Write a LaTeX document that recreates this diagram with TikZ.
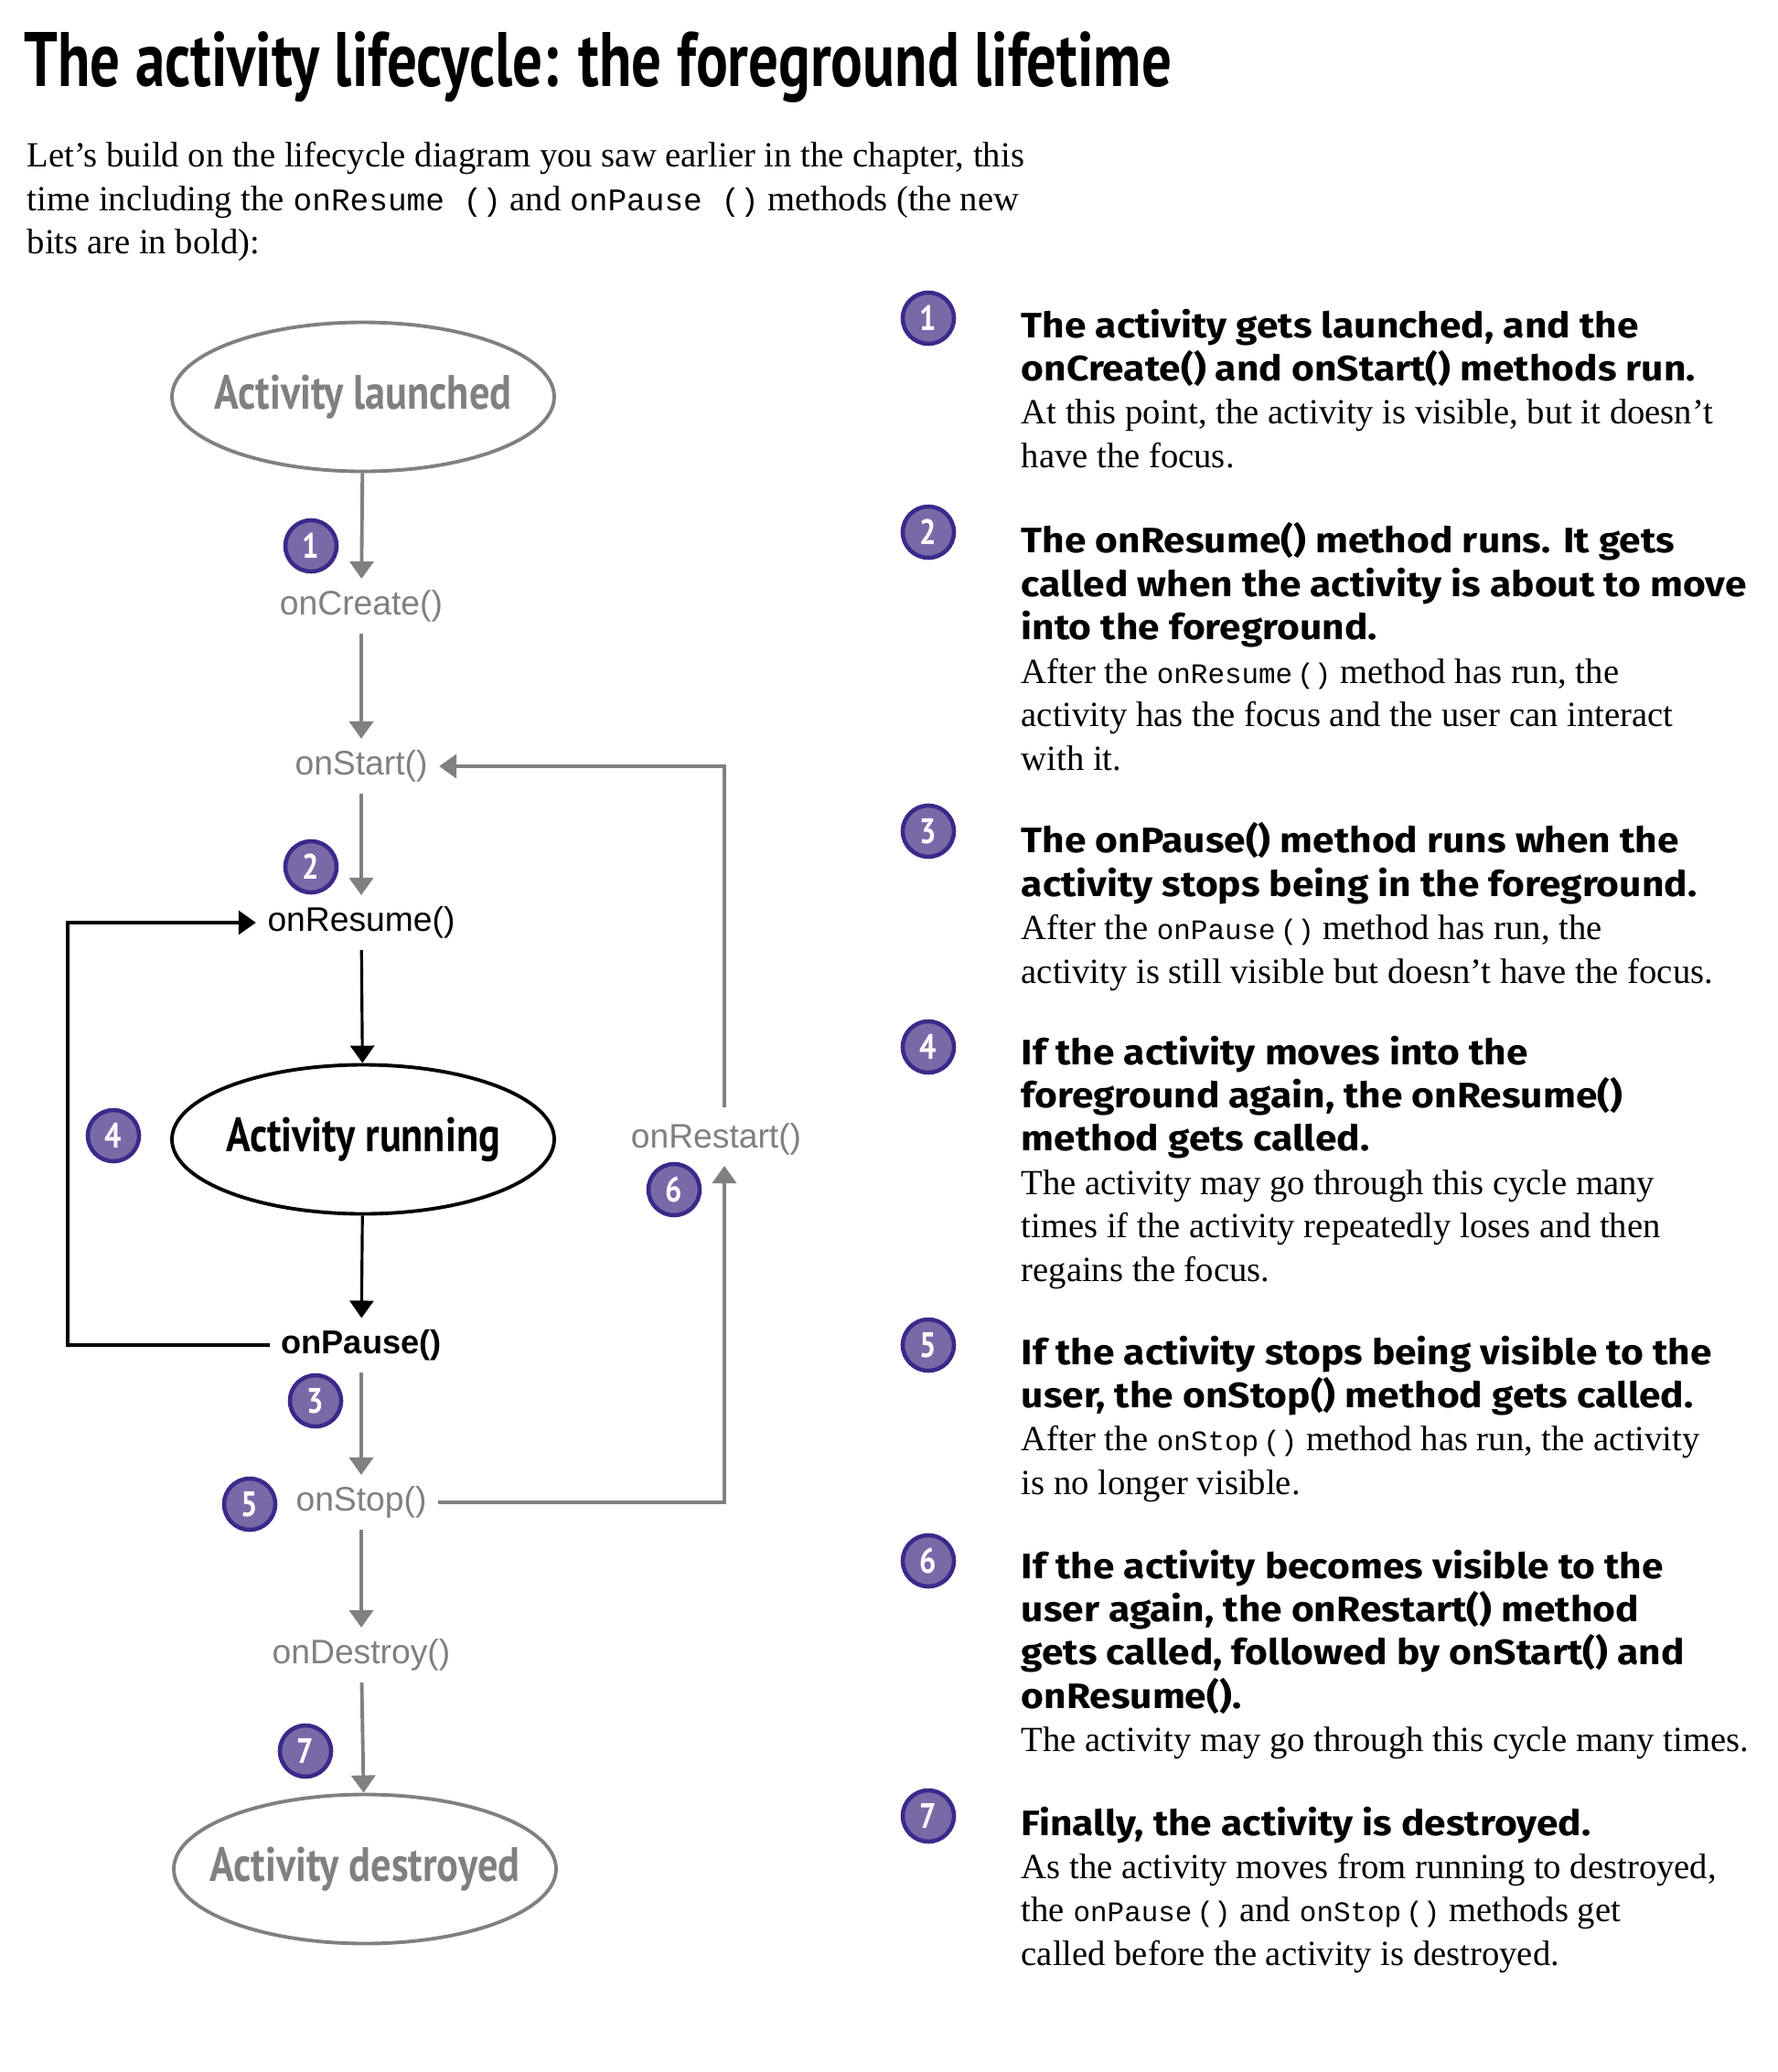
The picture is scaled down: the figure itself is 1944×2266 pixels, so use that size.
\documentclass[tikz,border=0pt]{standalone}
\usepackage{fontspec}
\usetikzlibrary{shapes.geometric,arrows.meta,positioning}
\setmainfont{Liberation Serif}
\setsansfont{Liberation Sans}
\setmonofont{Liberation Mono}
\newfontfamily\titlefont[FakeStretch=0.77]{PT Sans}
\newfontfamily\handfont[FakeStretch=0.84]{PT Sans}
\newfontfamily\headfont[FakeStretch=1.1]{Fira Sans}
\definecolor{lgray}{RGB}{128,128,128}
\definecolor{bfill}{RGB}{122,105,167}
\definecolor{bline}{RGB}{58,42,138}
\newcommand{\mcode}[1]{{\ttfamily\fontsize{8.8}{13.5}\selectfont #1}}
\newcommand{\mcodeb}[1]{{\ttfamily\fontsize{9.8}{13.5}\selectfont #1}}
\newcommand{\hd}{\headfont\bfseries\fontsize{11}{13.5}\selectfont}
\newcommand{\bd}{\rmfamily\mdseries\fontsize{11}{13.5}\selectfont}

\begin{document}
\begin{tikzpicture}[x=0.1mm,y=0.1mm]
		\tikzstyle{every node}+=[inner sep=0pt]
		\tikzstyle{state}=[ellipse, draw=lgray, line width=1.1pt, minimum width=4.18cm, minimum height=1.63cm, font=\handfont\bfseries\fontsize{15}{15}\selectfont, text=lgray]
		\tikzstyle{method}=[font=\sffamily\fontsize{10.6}{12}\selectfont, text=lgray, inner sep=1.2mm]
		\tikzstyle{badge}=[circle, fill=bfill, draw=bline, line width=1.3pt, minimum size=0.56cm, text=white, font=\handfont\bfseries\fontsize{11}{11}\selectfont]
		\tikzstyle{garrow}=[lgray, line width=1.1pt, -{Triangle[width=2.6mm,length=1.9mm]}]
		\tikzstyle{barrow}=[black, line width=0.9pt, -{Triangle[width=2.6mm,length=1.9mm]}]
		\tikzstyle{item}=[anchor=north west, align=left, font=\bd]
		\useasboundingbox (0,0) rectangle (1944,-2266);
		% heading and intro
		\node [anchor=base west] (title) at (26,-94) {\titlefont\bfseries\fontsize{24}{24}\selectfont The activity lifecycle: the foreground lifetime};
		\node [item] (intro) at (29,-155) {Let’s build on the lifecycle diagram you saw earlier in the chapter, this\\time including the \mcodeb{onResume ()} and \mcodeb{onPause ()} methods (the new\\bits are in bold):};
		% lifecycle states and methods
		\node [state] (launched) at (397,-434) {\makebox[0pt]{Activity launched}};
		\node [method] (create) at (395,-663) {onCreate()};
		\node [method] (start) at (395,-838) {onStart()};
		\node [method, text=black] (resume) at (395,-1009) {onResume()};
		\node [state, draw=black, text=black] (running) at (397,-1246) {\makebox[0pt]{Activity running}};
		\node [method, text=black, font=\sffamily\bfseries\fontsize{10.3}{12}\selectfont] (pause) at (395,-1471) {onPause()};
		\node [method] (stop) at (395,-1643) {onStop()};
		\node [method] (destroy) at (395,-1810) {onDestroy()};
		\node [state] (destroyed) at (399,-2044) {\makebox[0pt]{Activity destroyed}};
		\node [method] (restart) at (783,-1246) {onRestart()};
		\coordinate (loop) at (74,-1240);
		\coordinate (rlow) at (792,-1275);
		\coordinate (rhigh) at (792,-1211);
		\draw [garrow] (launched) -- (create);
		\draw [garrow] (create) -- (start);
		\draw [garrow] (start) -- (resume);
		\draw [barrow] (resume) -- (running);
		\draw [barrow] (running) -- (pause);
		\draw [barrow] (pause.west) -| (loop) |- (resume.west);
		\draw [garrow] (pause) -- (stop);
		\draw [garrow] (stop) -- (destroy);
		\draw [garrow] (destroy) -- (destroyed);
		\draw [garrow] (stop.east) -| (rlow);
		\draw [garrow] (rhigh) |- (start.east);
		% numbered badges on the diagram
		\node [badge] (d1) at (340,-597) {1};
		\node [badge] (d2) at (340,-948) {2};
		\node [badge] (d3) at (345,-1532) {3};
		\node [badge] (d4) at (124,-1242) {4};
		\node [badge] (d5) at (273,-1645) {5};
		\node [badge] (d6) at (737,-1301) {6};
		\node [badge] (d7) at (334,-1915) {7};
		% notes on the right
		\foreach \n/\y in {1/348,2/582,3/909,4/1145,5/1471,6/1707,7/1986}
			\node [badge] (r\n) at (1015,-\y) {\n};
		\node [item] (t1) at (1116,-337) {\hd The activity gets launched, and the\\\hd onCreate() and onStart() methods run.\\At this point, the activity is visible, but it doesn’t\\have the focus.};
		\node [item] (t2) at (1116,-571) {\hd The onResume() method runs. It gets\\\hd called when the activity is about to move\\\hd into the foreground.\\After the \mcode{onResume\,()} method has run, the\\activity has the focus and the user can interact\\with it.};
		\node [item] (t3) at (1116,-899) {\hd The onPause() method runs when the\\\hd activity stops being in the foreground.\\After the \mcode{onPause\,()} method has run, the\\activity is still visible but doesn’t have the focus.};
		\node [item] (t4) at (1116,-1132) {\hd If the activity moves into the\\\hd foreground again, the onResume()\\\hd method gets called.\\The activity may go through this cycle many\\times if the activity repeatedly loses and then\\regains the focus.};
		\node [item] (t5) at (1116,-1460) {\hd If the activity stops being visible to the\\\hd user, the onStop() method gets called.\\After the \mcode{onStop\,()} method has run, the activity\\is no longer visible.};
		\node [item] (t6) at (1116,-1694) {\hd If the activity becomes visible to the\\\hd user again, the onRestart() method\\\hd gets called, followed by onStart() and\\\hd onResume().\\The activity may go through this cycle many times.};
		\node [item] (t7) at (1116,-1975) {\hd Finally, the activity is destroyed.\\As the activity moves from running to destroyed,\\the \mcode{onPause\,()} and \mcode{onStop\,()} methods get\\called before the activity is destroyed.};
	\end{tikzpicture}
\end{document}
